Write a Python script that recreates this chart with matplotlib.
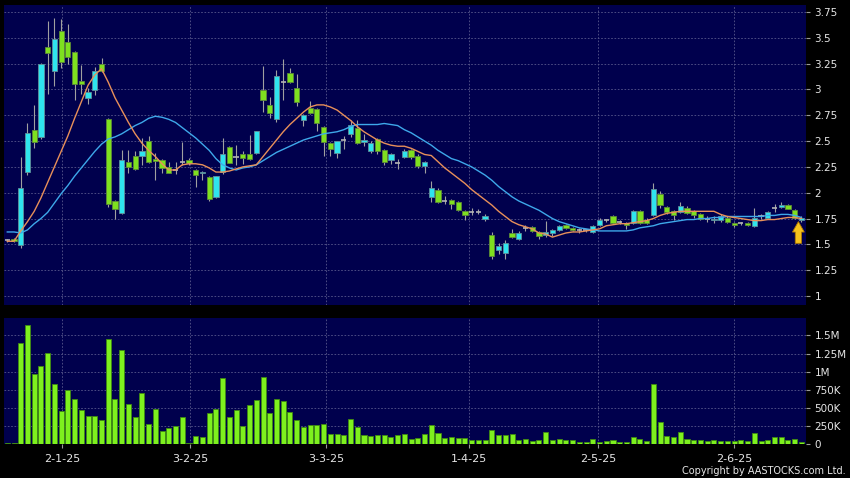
import numpy as np
import matplotlib
matplotlib.use("Agg")
import matplotlib.pyplot as plt

# daily candles (index 0 = first bar on the left)
opens = [1.54, 1.55, 1.49, 2.20, 2.61, 2.54, 3.41, 3.18, 3.57, 3.46,
         3.36, 3.08, 2.92, 2.99, 3.25, 2.71, 1.92, 1.80, 2.30, 2.36,
         2.36, 2.50, 2.33, 2.32, 2.25, 2.22, 2.30, 2.32, 2.22, 2.19,
         2.15, 1.96, 2.20, 2.44, 2.35, 2.37, 2.37, 2.38, 2.99, 2.85,
         2.71, 3.07, 3.16, 3.01, 2.70, 2.82, 2.81, 2.64, 2.48, 2.38,
         2.51, 2.57, 2.63, 2.49, 2.40, 2.52, 2.41, 2.32, 2.29, 2.35,
         2.41, 2.36, 2.26, 1.96, 2.03, 1.92, 1.93, 1.91, 1.82, 1.81,
         1.81, 1.75, 1.59, 1.45, 1.42, 1.61, 1.55, 1.66, 1.67, 1.62,
         1.59, 1.61, 1.64, 1.69, 1.66, 1.64, 1.64, 1.62, 1.69, 1.74,
         1.77, 1.72, 1.71, 1.71, 1.82, 1.74, 1.78, 1.99, 1.86, 1.82,
         1.81, 1.85, 1.82, 1.79, 1.75, 1.74, 1.74, 1.76, 1.71, 1.71,
         1.71, 1.68, 1.77, 1.76, 1.85, 1.86, 1.88, 1.83, 1.74]
highs = [1.55, 1.56, 2.35, 2.67, 2.85, 3.26, 3.66, 3.69, 3.68, 3.63,
         3.37, 3.24, 3.01, 3.22, 3.30, 2.72, 1.93, 2.41, 2.41, 2.40,
         2.53, 2.55, 2.38, 2.33, 2.30, 2.30, 2.49, 2.34, 2.23, 2.21,
         2.16, 2.16, 2.53, 2.45, 2.46, 2.40, 2.56, 2.60, 3.23, 2.93,
         3.19, 3.29, 3.21, 3.15, 2.76, 2.89, 2.82, 2.65, 2.49, 2.50,
         2.55, 2.70, 2.70, 2.57, 2.50, 2.53, 2.42, 2.38, 2.33, 2.42,
         2.42, 2.37, 2.31, 2.11, 2.05, 1.97, 1.94, 1.92, 1.83, 1.85,
         1.84, 1.79, 1.62, 1.51, 1.54, 1.65, 1.63, 1.69, 1.68, 1.63,
         1.73, 1.65, 1.69, 1.70, 1.67, 1.66, 1.65, 1.69, 1.76, 1.75,
         1.78, 1.74, 1.72, 1.83, 1.83, 1.76, 2.09, 2.02, 1.87, 1.83,
         1.91, 1.87, 1.83, 1.80, 1.77, 1.77, 1.79, 1.77, 1.72, 1.72,
         1.72, 1.85, 1.79, 1.82, 1.89, 1.91, 1.89, 1.84, 1.77]
lows = [1.52, 1.52, 1.46, 2.17, 2.43, 2.52, 2.96, 3.03, 3.21, 3.25,
        2.90, 2.96, 2.86, 2.95, 3.17, 1.86, 1.75, 1.79, 2.19, 2.22,
        2.27, 2.29, 2.12, 2.19, 2.19, 2.18, 2.27, 2.27, 2.06, 2.12,
        1.92, 1.95, 2.18, 2.29, 2.27, 2.28, 2.32, 2.37, 2.78, 2.72,
        2.68, 2.90, 3.06, 2.84, 2.65, 2.76, 2.60, 2.36, 2.36, 2.34,
        2.42, 2.54, 2.47, 2.45, 2.38, 2.37, 2.27, 2.28, 2.23, 2.34,
        2.33, 2.24, 2.19, 1.91, 1.90, 1.89, 1.84, 1.82, 1.74, 1.78,
        1.79, 1.73, 1.36, 1.41, 1.36, 1.56, 1.54, 1.63, 1.62, 1.55,
        1.57, 1.58, 1.63, 1.65, 1.63, 1.61, 1.62, 1.61, 1.68, 1.72,
        1.70, 1.70, 1.65, 1.70, 1.70, 1.70, 1.77, 1.85, 1.79, 1.74,
        1.80, 1.79, 1.76, 1.74, 1.72, 1.71, 1.72, 1.71, 1.67, 1.69,
        1.68, 1.67, 1.75, 1.75, 1.81, 1.85, 1.84, 1.75, 1.72]
closes = [1.54, 1.53, 2.05, 2.58, 2.49, 3.25, 3.35, 3.49, 3.27, 3.31,
          3.05, 3.05, 2.97, 3.18, 3.18, 1.89, 1.84, 2.32, 2.25, 2.23,
          2.40, 2.30, 2.31, 2.24, 2.19, 2.22, 2.30, 2.29, 2.17, 2.20,
          1.94, 2.16, 2.37, 2.29, 2.35, 2.34, 2.33, 2.60, 2.90, 2.77,
          3.13, 3.07, 3.07, 2.88, 2.75, 2.77, 2.67, 2.49, 2.42, 2.50,
          2.51, 2.66, 2.48, 2.51, 2.48, 2.40, 2.30, 2.37, 2.29, 2.40,
          2.35, 2.26, 2.30, 2.05, 1.91, 1.92, 1.89, 1.83, 1.78, 1.81,
          1.81, 1.77, 1.39, 1.48, 1.51, 1.57, 1.61, 1.66, 1.63, 1.58,
          1.62, 1.64, 1.68, 1.66, 1.64, 1.64, 1.64, 1.68, 1.74, 1.74,
          1.71, 1.72, 1.69, 1.82, 1.71, 1.71, 2.04, 1.88, 1.81, 1.78,
          1.87, 1.80, 1.78, 1.75, 1.75, 1.75, 1.77, 1.72, 1.69, 1.71,
          1.69, 1.76, 1.77, 1.81, 1.85, 1.88, 1.84, 1.76, 1.76]
# volume in thousands of shares
volumes_k = [20, 20, 1395, 1648, 965, 1071, 1251, 826, 457, 752,
             628, 471, 388, 388, 332, 1454, 619, 1297, 550, 374,
             702, 273, 480, 180, 222, 254, 378, 15, 111, 93,
             425, 489, 914, 378, 475, 245, 536, 614, 932, 434,
             628, 596, 443, 332, 231, 259, 259, 277, 134, 134,
             125, 342, 231, 130, 115, 120, 125, 97, 120, 139,
             74, 88, 139, 263, 157, 83, 97, 88, 83, 55,
             51, 51, 190, 129, 129, 134, 60, 74, 37, 51,
             162, 60, 69, 51, 51, 28, 28, 65, 28, 42,
             51, 28, 28, 97, 65, 42, 831, 305, 115, 97,
             166, 74, 51, 51, 37, 51, 42, 37, 37, 51,
             40, 148, 42, 60, 92, 92, 51, 69, 32]
# moving averages as drawn on the chart
ma_short = [1.53, 1.53, 1.63, 1.72, 1.82, 1.95, 2.10, 2.25, 2.40, 2.55,
            2.72, 2.88, 3.04, 3.14, 3.20, 3.07, 2.92, 2.80, 2.68, 2.57,
            2.48, 2.41, 2.35, 2.28, 2.22, 2.22, 2.27, 2.28, 2.28, 2.27,
            2.24, 2.20, 2.20, 2.21, 2.23, 2.25, 2.26, 2.27, 2.35, 2.43,
            2.51, 2.59, 2.66, 2.72, 2.78, 2.83, 2.85, 2.85, 2.83, 2.80,
            2.75, 2.70, 2.64, 2.59, 2.55, 2.51, 2.48, 2.46, 2.45, 2.45,
            2.43, 2.40, 2.37, 2.36, 2.30, 2.24, 2.19, 2.14, 2.09, 2.03,
            1.98, 1.93, 1.88, 1.82, 1.77, 1.72, 1.69, 1.67, 1.65, 1.61,
            1.60, 1.57, 1.59, 1.61, 1.62, 1.62, 1.63, 1.64, 1.65, 1.68,
            1.69, 1.70, 1.70, 1.71, 1.72, 1.73, 1.75, 1.78, 1.80, 1.81,
            1.82, 1.82, 1.82, 1.82, 1.82, 1.82, 1.79, 1.77, 1.76, 1.75,
            1.74, 1.73, 1.73, 1.74, 1.74, 1.75, 1.76, 1.76, 1.75]
ma_long = [1.62, 1.62, 1.61, 1.64, 1.70, 1.75, 1.81, 1.90, 1.99, 2.07,
           2.16, 2.24, 2.32, 2.40, 2.47, 2.52, 2.54, 2.57, 2.61, 2.65,
           2.68, 2.72, 2.74, 2.73, 2.71, 2.68, 2.63, 2.58, 2.53, 2.47,
           2.41, 2.33, 2.27, 2.24, 2.22, 2.24, 2.25, 2.27, 2.31, 2.35,
           2.39, 2.42, 2.45, 2.48, 2.51, 2.53, 2.55, 2.57, 2.58, 2.59,
           2.61, 2.64, 2.66, 2.66, 2.66, 2.66, 2.67, 2.66, 2.65, 2.61,
           2.58, 2.54, 2.50, 2.46, 2.41, 2.37, 2.33, 2.31, 2.28, 2.25,
           2.21, 2.17, 2.12, 2.06, 2.01, 1.96, 1.92, 1.89, 1.86, 1.83,
           1.79, 1.75, 1.72, 1.70, 1.68, 1.66, 1.65, 1.64, 1.63, 1.63,
           1.63, 1.63, 1.63, 1.64, 1.66, 1.67, 1.68, 1.70, 1.71, 1.72,
           1.73, 1.74, 1.74, 1.75, 1.75, 1.76, 1.76, 1.77, 1.77, 1.77,
           1.77, 1.77, 1.77, 1.78, 1.78, 1.79, 1.79, 1.78, 1.76]

date_ticks = [8.1, 27.2, 47.4, 68.6, 87.8, 108.0]
date_labels = ["2-1-25", "3-2-25", "3-3-25", "1-4-25", "2-5-25", "2-6-25"]
price_ticks = [1, 1.25, 1.5, 1.75, 2, 2.25, 2.5, 2.75, 3, 3.25, 3.5, 3.75]
vol_ticks = [0, 250, 500, 750, 1000, 1250, 1500]
vol_labels = ["0", "250K", "500K", "750K", "1M", "1.25M", "1.5M"]

NAVY = "#00004d"
UP = "#2fe4ee"
DOWN = "#7ee01f"
GRID = "#58588c"
TXT = "#e6e6e6"

o = np.array(opens)
h = np.array(highs)
l = np.array(lows)
c = np.array(closes)
x = np.arange(len(c))
n = len(c)

fig = plt.figure(figsize=(8.5, 4.78), dpi=100, facecolor="black")
ax1 = fig.add_axes([4 / 850, 1 - 305 / 478, 802 / 850, 300 / 478])
ax2 = fig.add_axes([4 / 850, 1 - 444 / 478, 802 / 850, 126 / 478])

for ax in (ax1, ax2):
    ax.set_facecolor(NAVY)
    for s in ax.spines.values():
        s.set_visible(False)
    ax.set_axisbelow(True)
    ax.grid(True, color=GRID, linestyle=(0, (2, 2)), linewidth=0.6)
    ax.set_xlim(-0.49, 118.68)
    ax.set_xticks(date_ticks)
    ax.yaxis.tick_right()
    ax.tick_params(axis="y", colors="#9a9a9a", labelcolor=TXT, labelsize=7.5,
                   length=3, pad=3)

# price panel
ax1.vlines(x, l, h, color="#a0a0a0", linewidth=0.8, zorder=2)
up = c > o
down = c < o
flat = c == o
body_w = 0.78
ax1.bar(x[up], (c - o)[up], bottom=o[up], width=body_w, color=UP,
        edgecolor="#5f8f9a", linewidth=0.6, zorder=3)
ax1.bar(x[down], (o - c)[down], bottom=c[down], width=body_w, color=DOWN,
        edgecolor="#5d8a38", linewidth=0.6, zorder=3)
ax1.hlines(c[flat], x[flat] - body_w / 2, x[flat] + body_w / 2,
           color="#b4b4b4", linewidth=1.2, zorder=3)

ax1.plot(x, ma_long, color="#3ea8ea", linewidth=1.0, zorder=4)
ax1.plot(x, ma_short, color="#e8905a", linewidth=1.0, zorder=4)

ax1.annotate("", xy=(n - 1.45, 1.72), xytext=(n - 1.45, 1.51),
             arrowprops=dict(arrowstyle="simple,head_width=0.85,head_length=0.75,tail_width=0.45",
                             mutation_scale=10, fc="#f6c21c", ec="#b27a00",
                             lw=0.6, shrinkA=0, shrinkB=0), zorder=5)

ax1.set_ylim(0.913, 3.817)
ax1.set_yticks(price_ticks)
ax1.set_yticklabels(["%g" % t for t in price_ticks])
ax1.tick_params(axis="x", length=0, labelbottom=False)

# volume panel
ax2.bar(x, volumes_k, width=0.75, color="#7ef01e", edgecolor="#3f8a12",
        linewidth=0.6, zorder=3)
ax2.set_ylim(0, 1741)
ax2.set_yticks(vol_ticks)
ax2.set_yticklabels(vol_labels)
ax2.set_xticklabels(date_labels)
ax2.tick_params(axis="x", colors="#9a9a9a", labelcolor=TXT, labelsize=8,
                length=3, pad=4)

fig.text(846 / 850, 1 - 471 / 478, "Copyright by AASTOCKS.com Ltd.",
         ha="right", va="center", color=TXT, fontsize=7)

fig.savefig("out.png", dpi=100, facecolor="black")
